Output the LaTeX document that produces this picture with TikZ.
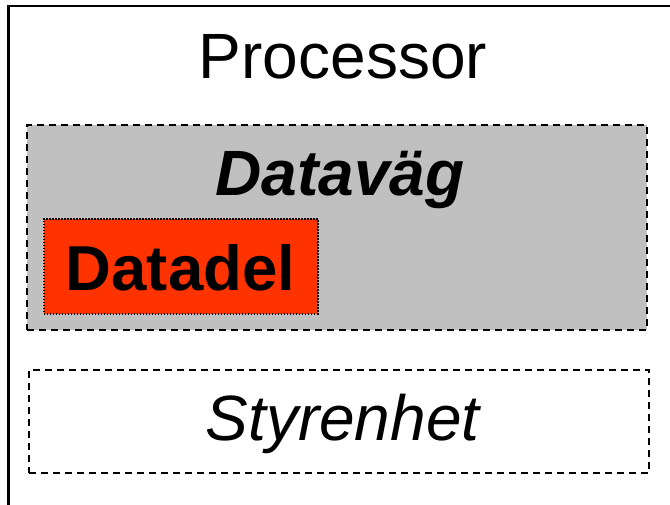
\documentclass[tikz,border=0pt]{standalone}
\usepackage{fontspec}
\setmainfont{Liberation Sans}
\definecolor{grayfill}{HTML}{C0C0C0}
\definecolor{redfill}{HTML}{FF3300}
\tikzset{
  dashbox/.style={draw=black, line width=2.4pt, dash pattern=on 7pt off 5pt, inner sep=0pt},
  label62/.style={font=\fontsize{64}{72}\selectfont, anchor=base, inner sep=0pt},
}
\begin{document}
\begin{tikzpicture}[x=1pt,y=-1pt]
\useasboundingbox (0,0) rectangle (670,504);
\fill[white] (0,0) rectangle (670,504);
% outer frame (right and bottom outside the view)
\node[draw=black, line width=2.5pt, minimum width=700pt, minimum height=530pt, anchor=north west, inner sep=0pt] (frame) at (7,4.5) {};
\node[label62] (proc) at (343,78) {Processor};
% data path
\node[dashbox, fill=grayfill, minimum width=620pt, minimum height=205pt, anchor=north west] (datavag) at (26,124) {};
\node[label62, font=\fontsize{64}{72}\selectfont\bfseries\itshape] (dvtext) at (340,195) {Dataväg};
\node[draw=black, line width=1.6pt, dash pattern=on 1.5pt off 1.5pt, fill=redfill, minimum width=274pt, minimum height=95pt, anchor=north west, inner sep=0pt] (datadel) at (43,218) {};
\node[label62, font=\fontsize{63.5}{72}\selectfont\bfseries] (ddtext) at (180.5,290) {Datadel};
% control unit
\node[dashbox, fill=white, minimum width=620pt, minimum height=103pt, anchor=north west] (styr) at (28,369) {};
\node[label62, font=\fontsize{64}{72}\selectfont\itshape] (sttext) at (342.5,440) {Styrenhet};
\end{tikzpicture}
\end{document}
